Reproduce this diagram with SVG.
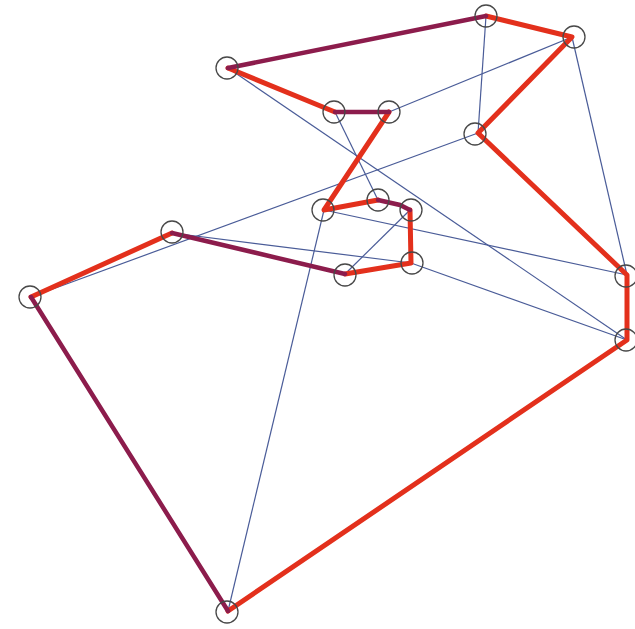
<svg xmlns="http://www.w3.org/2000/svg" width="635" height="629" viewBox="0 0 635 629">
<style>
.e{stroke:#4a5c98;stroke-width:1.2;fill:none}
.t{stroke:#e3301c;stroke-width:5;fill:none;stroke-linecap:round;stroke-linejoin:round}
.p{stroke:#8c1c4c;stroke-width:4.5;fill:none;stroke-linecap:round}
.n circle{fill:none;stroke:#484848;stroke-width:1.3}
</style>
<rect width="635" height="629" fill="#ffffff"/>
<g id="connectors">
<g id="edges">
<line class="e" x1="486" y1="16" x2="478" y2="133"/>
<line class="e" x1="389" y1="112" x2="572" y2="37"/>
<line class="e" x1="572" y1="37" x2="627" y2="275"/>
<line class="e" x1="228" y1="68" x2="627" y2="340"/>
<line class="e" x1="335" y1="112" x2="378" y2="200"/>
<line class="e" x1="478" y1="133" x2="31" y2="297"/>
<line class="e" x1="324" y1="210" x2="627" y2="275"/>
<line class="e" x1="172" y1="233" x2="411" y2="263"/>
<line class="e" x1="411" y1="263" x2="627" y2="340"/>
<line class="e" x1="345" y1="274" x2="410" y2="210"/>
<line class="e" x1="324" y1="210" x2="228" y2="611"/>
</g>
<g id="tour">
<polyline class="t" points="486,16 572,37 478,133 627,275 627,340 228,611"/>
<polyline class="t" points="31,297 172,233"/>
<polyline class="t" points="345,274 411,263 410,210"/>
<polyline class="t" points="378,200 324,210 389,112"/>
<polyline class="t" points="335,112 228,68"/>
<line class="p" x1="228" y1="68" x2="486" y2="16"/>
<line class="p" x1="335" y1="112" x2="389" y2="112"/>
<line class="p" x1="172" y1="233" x2="345" y2="274"/>
<line class="p" x1="228" y1="611" x2="31" y2="297"/>
<polyline class="p" points="378,200 400,205 410,210"/>
</g>
</g>
<g class="n">
<g id="n1"><circle cx="486" cy="16" r="11"/></g>
<g id="n2"><circle cx="574" cy="37" r="11"/></g>
<g id="n3"><circle cx="227" cy="68" r="11"/></g>
<g id="n4"><circle cx="334" cy="112" r="11"/></g>
<g id="n5"><circle cx="389" cy="112" r="11"/></g>
<g id="n6"><circle cx="475" cy="134" r="11"/></g>
<g id="n7"><circle cx="378" cy="200" r="11"/></g>
<g id="n8"><circle cx="323" cy="210" r="11"/></g>
<g id="n9"><circle cx="411" cy="210" r="11"/></g>
<g id="n10"><circle cx="172" cy="232" r="11"/></g>
<g id="n11"><circle cx="412" cy="263" r="11"/></g>
<g id="n12"><circle cx="345" cy="275" r="11"/></g>
<g id="n13"><circle cx="30" cy="297" r="11"/></g>
<g id="n14"><circle cx="626" cy="276" r="11"/></g>
<g id="n15"><circle cx="626" cy="340" r="11"/></g>
<g id="n16"><circle cx="227" cy="612" r="11"/></g>
</g>
</svg>
